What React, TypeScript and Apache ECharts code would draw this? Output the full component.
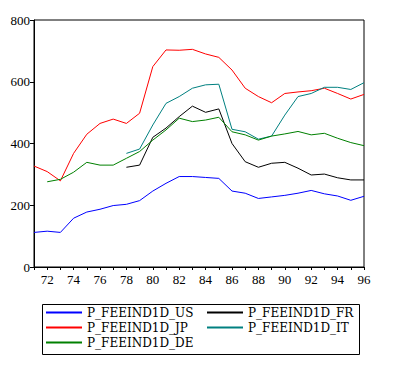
import React, { useEffect, useRef } from "react";
import * as echarts from "echarts";

const years = [1971,1972,1973,1974,1975,1976,1977,1978,1979,1980,1981,1982,1983,1984,1985,1986,1987,1988,1989,1990,1991,1992,1993,1994,1995,1996];
const us = [112,116,112,158,178,187,199,203,215,246,271,293,293,290,287,246,239,222,227,232,239,248,237,230,216,229];
const fr = [null,null,null,null,null,null,null,323,330,420,450,487,521,501,512,400,341,323,336,339,320,298,301,289,282,282];
const jp = [327,309,279,368,430,465,479,465,498,649,703,702,705,690,679,638,579,552,532,562,567,571,579,562,544,559];
const it = [null,null,null,null,null,null,null,368,382,460,530,552,579,590,592,446,438,414,424,492,552,562,582,582,575,597];
const de = [null,276,284,307,339,330,330,352,374,411,444,482,471,476,485,438,428,411,424,431,439,428,433,417,403,393];

const FONT = "Liberation Serif";
const LFONT = "DejaVu Serif";

export default function App() {
  const ref = useRef<HTMLDivElement>(null);
  useEffect(() => {
    const chart = echarts.init(ref.current!, null, { renderer: "svg" });
    const mk = (name: string, data: (number | null)[], color: string) => ({
      name, type: "line", data, symbol: "none", connectNulls: false,
      lineStyle: { color, width: 1 }, itemStyle: { color },
    });
    const legendCommon = {
      orient: "vertical", top: 306, itemWidth: 36, itemHeight: 2, icon: "rect", itemGap: 2,
      textStyle: { fontFamily: LFONT, fontSize: 12, color: "#000", lineHeight: 13, padding: [0,0,0,0] },
      padding: 0,
    };
    chart.setOption({
      animation: false,
      backgroundColor: "#fff",
      grid: { left: 34, right: 29, top: 20, bottom: 104, show: true, borderColor: "#000", borderWidth: 1 },
      xAxis: {
        type: "category", data: years, boundaryGap: false,
        axisLine: { lineStyle: { color: "#000", width: 1 } },
        axisTick: { interval: 0, length: 3, lineStyle: { color: "#000" } },
        axisLabel: {
          interval: (i: number) => i % 2 === 1,
          formatter: (v: string) => String(v).slice(2),
          fontFamily: FONT, fontSize: 13, color: "#000", margin: 6,
        },
        splitLine: { show: false },
      },
      yAxis: {
        type: "value", min: 0, max: 800, interval: 200,
        axisLine: { show: true, lineStyle: { color: "#000", width: 1 } },
        axisTick: { show: true, length: 4, lineStyle: { color: "#000" } },
        axisLabel: { fontFamily: FONT, fontSize: 13, color: "#000", margin: 4 },
        splitLine: { show: false },
      },
      legend: [
        { ...legendCommon, left: 46, data: ["P_FEEIND1D_US", "P_FEEIND1D_JP", "P_FEEIND1D_DE"] },
        { ...legendCommon, left: 207, data: ["P_FEEIND1D_FR", "P_FEEIND1D_IT"] },
      ],
      graphic: [
        { type: "rect", left: 40, top: 302, shape: { width: 317, height: 50 }, style: { fill: "none", stroke: "#000", lineWidth: 1 } },
      ],
      series: [
        mk("P_FEEIND1D_US", us, "#0000ff"),
        mk("P_FEEIND1D_FR", fr, "#000000"),
        mk("P_FEEIND1D_JP", jp, "#ff0000"),
        mk("P_FEEIND1D_IT", it, "#008080"),
        mk("P_FEEIND1D_DE", de, "#008000"),
      ],
    });
    return () => chart.dispose();
  }, []);
  return <div ref={ref} style={{ width: 393, height: 371, position: "absolute", left: 0, top: 0 }} />;
}
